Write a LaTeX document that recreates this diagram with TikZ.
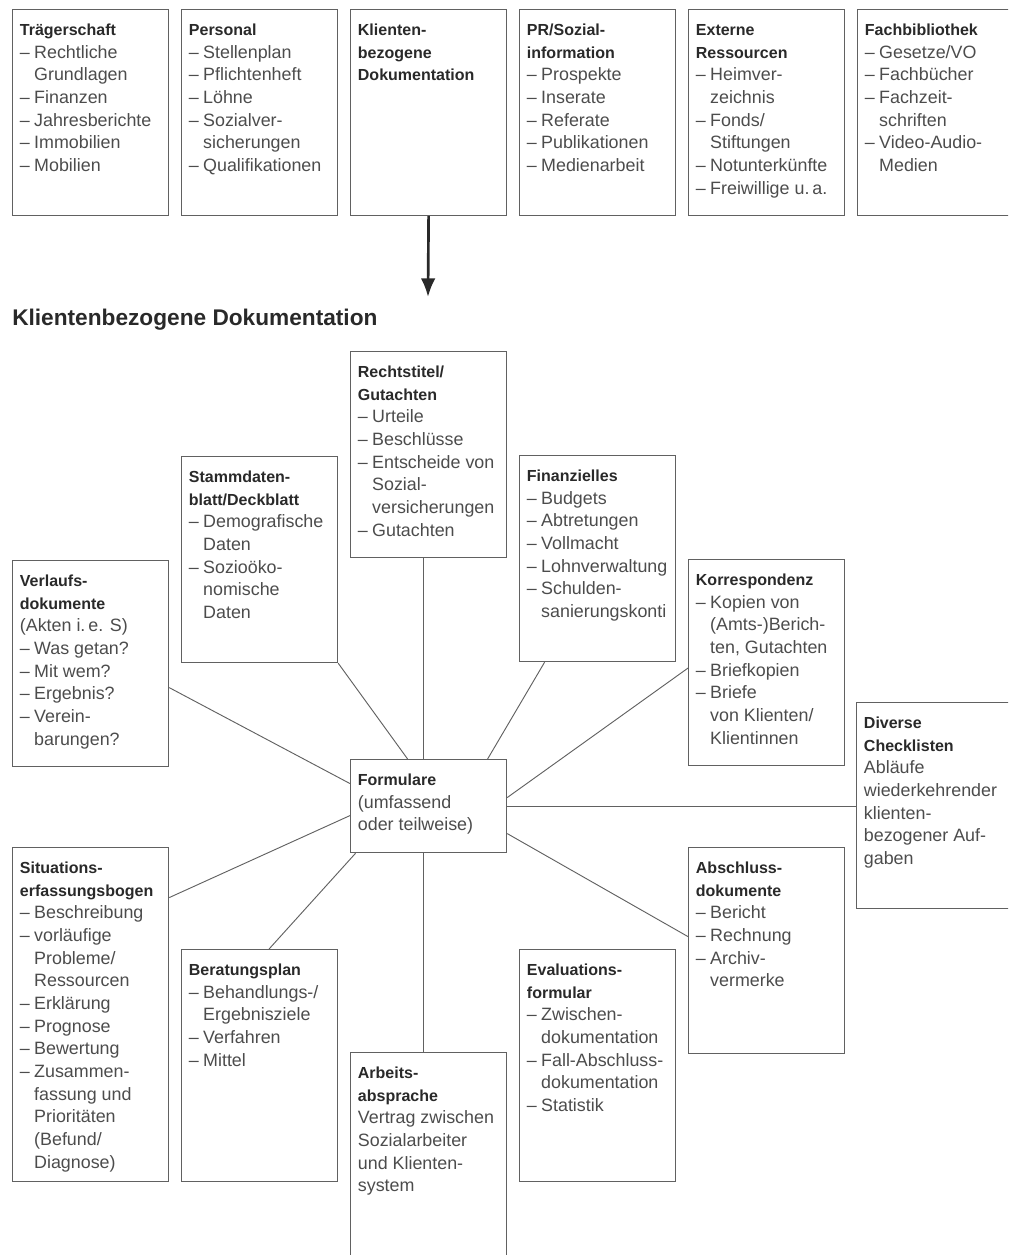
\documentclass[tikz,border=0pt]{standalone}
\usepackage{fontspec}
\setmainfont{Liberation Sans}
\usepackage{xcolor}
\usetikzlibrary{arrows.meta,positioning,calc}

\definecolor{inkline}{gray}{0.38}
\definecolor{inktext}{gray}{0.30}
\definecolor{inkhead}{gray}{0.16}

\newcommand{\bodyfont}{\fontsize{13.4}{17}\selectfont}
\newcommand{\headfont}{\fontsize{12}{17}\selectfont\bfseries\color{inkhead}}
\newcommand{\boxcontent}[2]{\parbox[t][#1][t]{106pt}{\raggedright\hyphenpenalty=10000\exhyphenpenalty=10000 #2}}
\newcommand{\hd}[1]{{\noindent\headfont\rule{0pt}{19.5pt}#1\par}}
\newcommand{\itm}[1]{\hangindent=10.7pt\hangafter=1\noindent\makebox[10.7pt][l]{–}#1\par}
\newcommand{\txt}[1]{\noindent#1\par}

\begin{document}
\begin{tikzpicture}[x=0.75pt, y=-0.75pt,
  docbox/.style={draw=inkline, line width=0.9pt, anchor=north west, inner xsep=5.5pt, inner ysep=0pt, text=inktext, font=\bodyfont},
  link/.style={draw=inkline, line width=0.7pt},
  flowarrow/.style={draw=inkhead, line width=2pt, -{Latex[length=14pt,width=11pt]}},
  titletext/.style={anchor=base west, inner sep=0pt, text=inkhead, font=\fontsize{17}{20}\selectfont\bfseries}]
  \useasboundingbox (0,0) rectangle (1008,1255);
  \clip (0,0) rectangle (1008,1255);
  % obere Reihe
  \node[docbox] (traeger) at (12,9)  {\boxcontent{154.5pt}{\hd{Trägerschaft}\itm{Rechtliche\newline Grundlagen}\itm{Finanzen}\itm{Jahresberichte}\itm{Immobilien}\itm{Mobilien}}};
  \node[docbox] (personal) at (181,9) {\boxcontent{154.5pt}{\hd{Personal}\itm{Stellenplan}\itm{Pflichtenheft}\itm{Löhne}\itm{Sozialver-\newline sicherungen}\itm{Qualifikationen}}};
  \node[docbox] (klient) at (350,9)  {\boxcontent{154.5pt}{\hd{Klienten-\newline bezogene\newline Dokumentation}}};
  \node[docbox] (pr) at (519,9)      {\boxcontent{154.5pt}{\hd{PR/Sozial-\newline information}\itm{Prospekte}\itm{Inserate}\itm{Referate}\itm{Publikationen}\itm{Medienarbeit}}};
  \node[docbox] (extern) at (688,9)  {\boxcontent{154.5pt}{\hd{Externe\newline Ressourcen}\itm{Heimver-\newline zeichnis}\itm{Fonds/\newline Stiftungen}\itm{Notunterkünfte}\itm{Freiwillige u.\,a.}}};
  \node[docbox] (biblio) at (857,9)  {\boxcontent{154.5pt}{\hd{Fachbibliothek}\itm{Gesetze/VO}\itm{Fachbücher}\itm{Fachzeit-\newline schriften}\itm{Video-Audio-\newline Medien}}};
  % Pfeil und Titel
  \coordinate (arrtip) at (428,297);
  \draw[flowarrow] (klient.south) -- (arrtip);
  \node[titletext] (title) at (12,325) {Klientenbezogene Dokumentation};
  % Kästen um die Formulare
  \node[docbox] (rechts) at (350,351) {\boxcontent{154.5pt}{\hd{Rechtstitel/\newline Gutachten}\itm{Urteile}\itm{Beschlüsse}\itm{Entscheide von\newline Sozial-\newline versicherungen}\itm{Gutachten}}};
  \node[docbox] (stamm) at (181,456) {\boxcontent{154.5pt}{\hd{Stammdaten-\newline blatt/Deckblatt}\itm{Demografische\newline Daten}\itm{Sozioöko-\newline nomische\newline Daten}}};
  \node[docbox] (finanz) at (519,455) {\boxcontent{154.5pt}{\hd{Finanzielles}\itm{Budgets}\itm{Abtretungen}\itm{Vollmacht}\itm{Lohnverwaltung}\itm{Schulden-\newline sanierungskonti}}};
  \node[docbox] (verlauf) at (12,560) {\boxcontent{154.5pt}{\hd{Verlaufs-\newline dokumente}\txt{(Akten i.\,e. S)}\itm{Was getan?}\itm{Mit wem?}\itm{Ergebnis?}\itm{Verein-\newline barungen?}}};
  \node[docbox] (korr) at (688,559) {\boxcontent{154.5pt}{\hd{Korrespondenz}\itm{Kopien von\newline (Amts-)Berich-\newline ten, Gutachten}\itm{Briefkopien}\itm{Briefe\newline von Klienten/\newline Klientinnen}}};
  \node[docbox] (diverse) at (856,702) {\boxcontent{154.5pt}{\hd{Diverse\newline Checklisten}\txt{Abläufe\newline wiederkehrender\newline klienten-\newline bezogener Auf-\newline gaben}}};
  \node[docbox] (form) at (350,759) {\boxcontent{69.75pt}{\hd{Formulare}\txt{(umfassend\newline oder teilweise)}}};
  \node[docbox] (situ) at (12,847) {\boxcontent{250.5pt}{\hd{Situations-\newline erfassungsbogen}\itm{Beschreibung}\itm{vorläufige\newline Probleme/\newline Ressourcen}\itm{Erklärung}\itm{Prognose}\itm{Bewertung}\itm{Zusammen-\newline fassung und\newline Prioritäten\newline (Befund/\newline Diagnose)}}};
  \node[docbox] (absch) at (688,847) {\boxcontent{154.5pt}{\hd{Abschluss-\newline dokumente}\itm{Bericht}\itm{Rechnung}\itm{Archiv-\newline vermerke}}};
  \node[docbox] (berat) at (181,949) {\boxcontent{174pt}{\hd{Beratungsplan}\itm{Behandlungs-/\newline Ergebnisziele}\itm{Verfahren}\itm{Mittel}}};
  \node[docbox] (eval) at (519,949) {\boxcontent{174pt}{\hd{Evaluations-\newline formular}\itm{Zwischen-\newline dokumentation}\itm{Fall-Abschluss-\newline dokumentation}\itm{Statistik}}};
  \node[docbox] (arbeit) at (350,1052) {\boxcontent{180pt}{\hd{Arbeits-\newline absprache}\txt{Vertrag zwischen\newline Sozialarbeiter\newline und Klienten-\newline system}}};
  % Verbindungen
  \draw[link] ([xshift=-3.75pt]rechts.south) -- ([xshift=-3.75pt]form.north);
  \draw[link] (stamm.south east) -- ([xshift=-15.75pt]form.north);
  \draw[link] ([xshift=-39.75pt]finanz.south) -- ([xshift=44.25pt]form.north);
  \draw[link] ([yshift=-18pt]verlauf.east) -- ([yshift=16.9pt]form.west);
  \draw[link] ([yshift=-4.1pt]korr.west) -- ([yshift=6.4pt]form.east);
  \draw[link] (form.east) -- (form.east -| diverse.west);
  \draw[link] ([yshift=-20.6pt]form.east) -- ([yshift=10.5pt]absch.west);
  \draw[link] ([yshift=87.75pt]situ.east) -- ([yshift=-7.1pt]form.west);
  \draw[link] ([xshift=7.1pt]berat.north) -- ([xshift=-54.75pt]form.south);
  \draw[link] ([xshift=-3.75pt]form.south) -- ([xshift=-3.75pt]arbeit.north);
\end{tikzpicture}
\end{document}
